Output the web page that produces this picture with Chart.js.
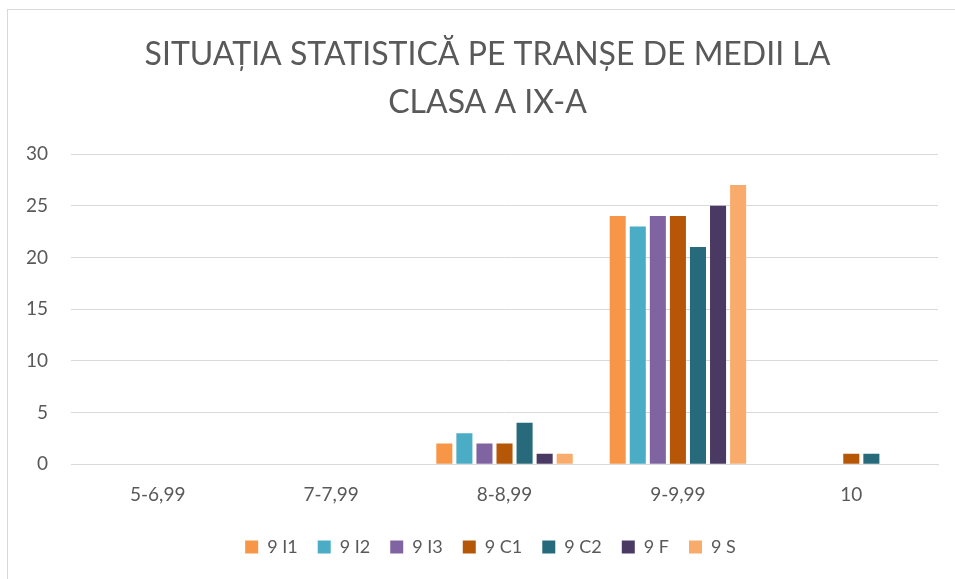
<!DOCTYPE html>
<html>
<head>
<meta charset="utf-8">
<script src="https://cdn.jsdelivr.net/npm/chart.js@4"></script>
<style>
  html, body { margin: 0; padding: 0; background: #fff; overflow: hidden; }
  #myChart { position: absolute; left: 0; top: 0; }
  #frame { position: absolute; left: 7px; top: 9px; width: 960px; height: 580px; border: 1px solid #d9d9d9; pointer-events: none; }
</style>
</head>
<body>
<canvas id="myChart" width="955" height="579"></canvas>
<div id="frame"></div>
<script>
const categories = ["5-6,99", "7-7,99", "8-8,99", "9-9,99", "10"];
const s9I1 = [0, 0, 2, 24, 0];
const s9I2 = [0, 0, 3, 23, 0];
const s9I3 = [0, 0, 2, 24, 0];
const s9C1 = [0, 0, 2, 24, 1];
const s9C2 = [0, 0, 4, 21, 1];
const s9F = [0, 0, 1, 25, 0];
const s9S = [0, 0, 1, 27, 0];
const seriesNames = ["9 I1", "9 I2", "9 I3", "9 C1", "9 C2", "9 F", "9 S"];
const seriesData = [s9I1, s9I2, s9I3, s9C1, s9C2, s9F, s9S];
const colors = ["#F79646", "#4BACC6", "#8064A2", "#B65708", "#276A7C", "#4A3A63", "#F9AB6B"];

const font = "Lato, sans-serif";

const plugin = {
    id: 'custom_canvas_background_color',
    beforeDraw: (chart) => {
        const ctx = chart.canvas.getContext('2d');
        ctx.save();
        ctx.globalCompositeOperation = 'destination-over';
        ctx.fillStyle = 'white';
        ctx.fillRect(0, 0, chart.width, chart.height);
        ctx.restore();
    }
};

// title and legend are centred on the whole frame, not on the plot area
const shiftBoxes = {
    id: 'shift_boxes',
    afterLayout: (chart) => {
        chart.titleBlock.left += 17;
        chart.titleBlock.right += 17;
        chart.legend.left += 20;
        chart.legend.right += 20;
    }
};

const ctx = document.getElementById("myChart").getContext("2d");
new Chart(ctx, {
    type: "bar",
    plugins: [plugin, shiftBoxes],
    data: {
        labels: categories,
        datasets: seriesNames.map((name, i) => ({
            label: name,
            data: seriesData[i],
            backgroundColor: colors[i],
            borderWidth: 0,
            categoryPercentage: 0.81,
            barPercentage: 0.8
        }))
    },
    options: {
        responsive: false,
        animation: false,
        layout: { padding: { left: 3, right: 17, top: 31, bottom: 13 } },
        plugins: {
            title: {
                display: true,
                text: ["SITUAȚIA STATISTICĂ PE TRANȘE DE MEDII LA", "CLASA A IX-A"],
                color: "#595959",
                font: { family: font, size: 32, weight: "normal", lineHeight: 1.5 },
                padding: { top: 0, bottom: 27 }
            },
            legend: {
                position: "bottom",
                labels: {
                    color: "#595959",
                    font: { family: font, size: 18 },
                    boxWidth: 13,
                    boxHeight: 13,
                    padding: 20
                }
            },
            tooltip: { enabled: false }
        },
        scales: {
            x: {
                grid: { display: false, drawTicks: false },
                border: { color: "#d9d9d9", width: 1 },
                ticks: { color: "#595959", font: { family: font, size: 19 }, padding: 19 },
                afterFit: (scale) => { scale.height -= 7; }
            },
            y: {
                min: 0,
                max: 30,
                ticks: { stepSize: 5, color: "#595959", font: { family: font, size: 19 }, padding: 23 },
                grid: { color: "#d9d9d9", drawTicks: false },
                border: { display: false }
            }
        }
    }
});
</script>
</body>
</html>
